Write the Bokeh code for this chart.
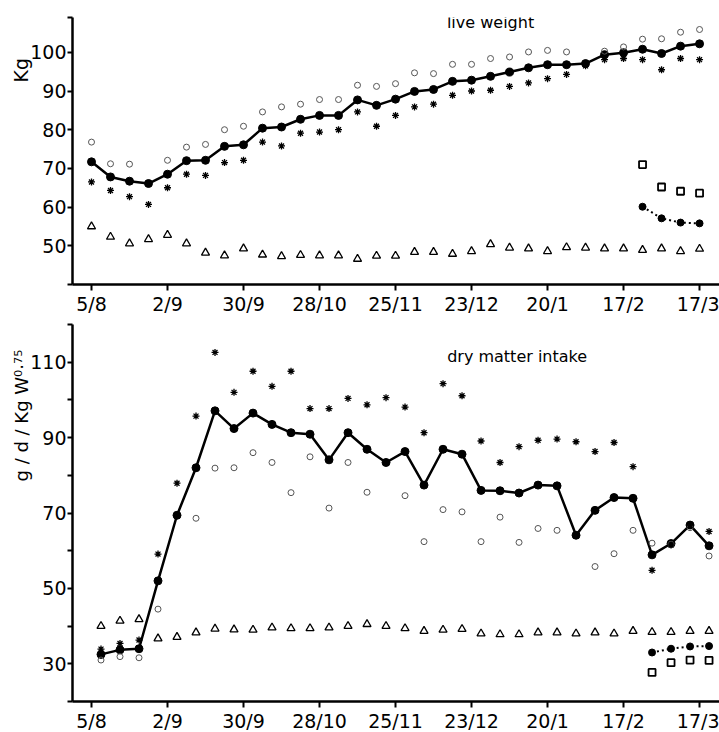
import numpy as np
from bokeh.plotting import figure
from bokeh.layouts import column
from bokeh.models import FixedTicker, Label, Range1d, Title
from bokeh.embed import file_html
from bokeh.resources import INLINE

nan = float("nan")

# ---------------- data ----------------
weeks = list(range(33))
tick_weeks = [0, 4, 8, 12, 16, 20, 24, 28, 32]
tick_labels = ["5/8", "2/9", "30/9", "28/10", "25/11", "23/12", "20/1", "17/2", "17/3"]
late_weeks = [29, 30, 31, 32]

# live weight (kg)
lw_filled = [71.7, 67.8, 66.7, 66.1, 68.5, 72.0, 72.1, 75.7, 76.1, 80.4, 80.7, 82.7, 83.7, 83.7,
             87.7, 86.3, 87.9, 89.9, 90.4, 92.5, 92.8, 93.8, 94.9, 96.0, 96.8, 96.8, 97.1, 99.4,
             99.9, 100.8, 99.7, 101.6, 102.2]
lw_open = [76.8, 71.2, 71.1, nan, 72.1, 75.5, 76.2, 80.0, 80.9, 84.6, 85.9, 86.6, 87.8, 87.8,
           91.5, 91.2, 91.9, 94.7, 94.5, 96.9, 96.9, 98.4, 98.8, 100.1, 100.5, 100.1, nan, 100.3,
           101.4, 103.4, 103.5, 105.2, 105.9]
lw_star = [66.5, 64.3, 62.7, 60.7, 65.0, 68.5, 68.2, 71.5, 72.1, 76.8, 75.8, 79.1, 79.4, 80.0,
           84.6, 80.9, 83.7, 85.9, 86.6, 88.9, 90.0, 90.2, 91.2, 92.1, 93.2, 94.3, 96.5, 98.1,
           98.4, 98.1, 95.5, 98.4, 98.1]
lw_tri = [55.0, 52.3, 50.6, 51.7, 52.8, 50.6, 48.2, 47.5, 49.3, 47.7, 47.3, 47.6, 47.5, 47.5,
          46.6, 47.4, 47.4, 48.4, 48.4, 47.9, 48.6, 50.4, 49.5, 49.3, 48.6, 49.6, 49.5, 49.3,
          49.3, 48.9, 49.3, 48.6, 49.2]
lw_sq = [71.0, 65.2, 64.1, 63.6]
lw_dot = [60.1, 57.1, 56.0, 55.8]

# dry matter intake (g/d/kg W^0.75), plotted at mid-week
dmi_filled = [32.5, 33.7, 34.0, 52.0, 69.4, 82.0, 97.1, 92.4, 96.5, 93.5, 91.3, 90.9, 84.1, 91.3,
              86.9, 83.4, 86.3, 77.4, 86.9, 85.6, 76.0, 75.9, 75.3, 77.4, 77.2, 64.1, 70.7, 74.1,
              73.9, 58.9, 61.9, 66.8, 61.3]
dmi_star = [33.9, 35.4, 36.3, 59.1, 77.9, 95.7, 112.6, 102.0, 107.6, 103.6, 107.6, 97.7, 97.7,
            100.4, 98.7, 100.6, 98.1, 91.3, 104.3, 101.1, 89.1, 83.4, 87.6, 89.3, 89.6, 88.9,
            86.3, 88.7, 82.3, 54.8, 61.5, 66.8, 65.1]
dmi_open = [31.0, 31.9, 31.6, 44.5, nan, 68.6, 81.9, 82.0, 86.0, 83.4, 75.4, 84.9, 71.3, 83.4,
            75.5, nan, 74.6, 62.4, 70.9, 70.3, 62.4, 68.9, 62.2, 65.9, 65.4, nan, 55.8, 59.2,
            65.4, 62.0, 61.7, 66.1, 58.6]
dmi_tri = [40.0, 41.4, 41.8, 36.7, 37.1, 38.3, 39.3, 39.1, 39.0, 39.6, 39.4, 39.4, 39.6, 40.0,
           40.5, 40.0, 39.4, 38.7, 39.0, 39.2, 38.0, 37.8, 37.8, 38.3, 38.3, 38.0, 38.3, 38.0,
           38.7, 38.4, 38.4, 38.7, 38.7]
dmi_sq = [27.7, 30.3, 31.0, 30.9]
dmi_dot = [33.0, 34.0, 34.6, 34.7]

top_yticks = [40, 50, 60, 70, 80, 90, 100, 109]
top_ylabels = ["", "50", "60", "70", "80", "90", "100", ""]
bot_yticks = [20, 30, 40, 50, 60, 70, 80, 90, 100, 110, 120]
bot_ylabels = ["", "30", "", "50", "", "70", "", "90", "", "110", ""]

FONT = "DejaVu Sans"
MID = 0.5  # intake plotted at the middle of each week


def make_fig(frame_h, yr, yticks, ylabels, btop, bbot):
    p = figure(frame_width=647, frame_height=frame_h, x_range=Range1d(-1, 33.05),
               y_range=Range1d(*yr), output_backend="svg", toolbar_location=None,
               min_border_left=72, min_border_right=0, min_border_top=btop,
               min_border_bottom=bbot, background_fill_color="white",
               border_fill_color="white")
    p.outline_line_color = None
    p.grid.visible = False
    for ax in (p.xaxis[0], p.yaxis[0]):
        ax.axis_line_width = 2.5
        ax.axis_line_color = "black"
        ax.major_tick_line_width = 2
        ax.major_tick_line_color = "black"
        ax.major_tick_in = 0
        ax.minor_tick_line_color = None
        ax.major_label_text_font = FONT
        ax.major_label_text_font_size = "19px"
        ax.major_label_text_color = "black"
    p.xaxis.ticker = FixedTicker(ticks=tick_weeks)
    p.xaxis.major_label_overrides = {w: l for w, l in zip(tick_weeks, tick_labels)}
    p.xaxis.major_tick_out = 6
    p.xaxis.major_label_standoff = 2
    p.yaxis.ticker = FixedTicker(ticks=yticks)
    p.yaxis.major_label_overrides = {t: l for t, l in zip(yticks, ylabels)}
    p.yaxis.major_tick_out = 5
    p.yaxis.major_label_standoff = 1
    return p


def side_title(text, offset, size):
    t = Title(text=text, align="left", offset=offset, standoff=0, text_font=FONT,
              text_font_size=size, text_font_style="normal", text_color="black")
    try:
        t.standoff = -8
    except Exception:
        pass
    return t


def add_series(p, xs, filled, opn, star, tri, xl, sq, dot):
    p.line(xs, filled, line_width=2.5, line_color="black")
    p.scatter(xs, filled, marker="circle", size=8, fill_color="black", line_color="black")
    p.scatter(xs, np.array(opn, dtype=float), marker="circle", size=6, fill_color=None,
              line_color="#555555", line_width=1)
    p.scatter(xs, star, marker="asterisk", size=7, line_color="black", line_width=1.3)
    p.scatter(xs, tri, marker="triangle", size=8, fill_color=None, line_color="black",
              line_width=1.3)
    p.scatter(xl, sq, marker="square", size=7, fill_color=None, line_color="black",
              line_width=1.8)
    p.line(xl, dot, line_width=2, line_dash="2 3", line_color="black")
    p.scatter(xl, dot, marker="circle", size=7, fill_color="black", line_color="black")


# ---------------- top panel ----------------
p1 = make_fig(267, (40, 109), top_yticks, top_ylabels, 17, 34)
add_series(p1, np.array(weeks, dtype=float), lw_filled, lw_open, lw_star, lw_tri,
           np.array(late_weeks, dtype=float), lw_sq, lw_dot)
p1.add_layout(Label(x=21.0, y=107.7, text="live weight", text_font=FONT, text_font_size="16px",
                    text_color="black", text_align="center", text_baseline="middle"))
p1.add_layout(side_title("Kg", 202, "19px"), "left")

# ---------------- bottom panel ----------------
p2 = make_fig(377, (20, 120), bot_yticks, bot_ylabels, 6, 31)
xb = np.array(weeks, dtype=float) + MID
xlb = np.array(late_weeks, dtype=float) + MID
add_series(p2, xb, dmi_filled, dmi_open, dmi_star, dmi_tri, xlb, dmi_sq, dmi_dot)
p2.add_layout(Label(x=22.4, y=111.6, text="dry matter intake", text_font=FONT,
                    text_font_size="16px", text_color="black", text_align="center",
                    text_baseline="middle"))
p2.add_layout(side_title("g / d / Kg W\u2070\u00b7\u2077\u2075", 220, "18px"), "left")

layout = column(p1, p2, spacing=0)
open("out.html", "w").write(file_html(layout, INLINE))
